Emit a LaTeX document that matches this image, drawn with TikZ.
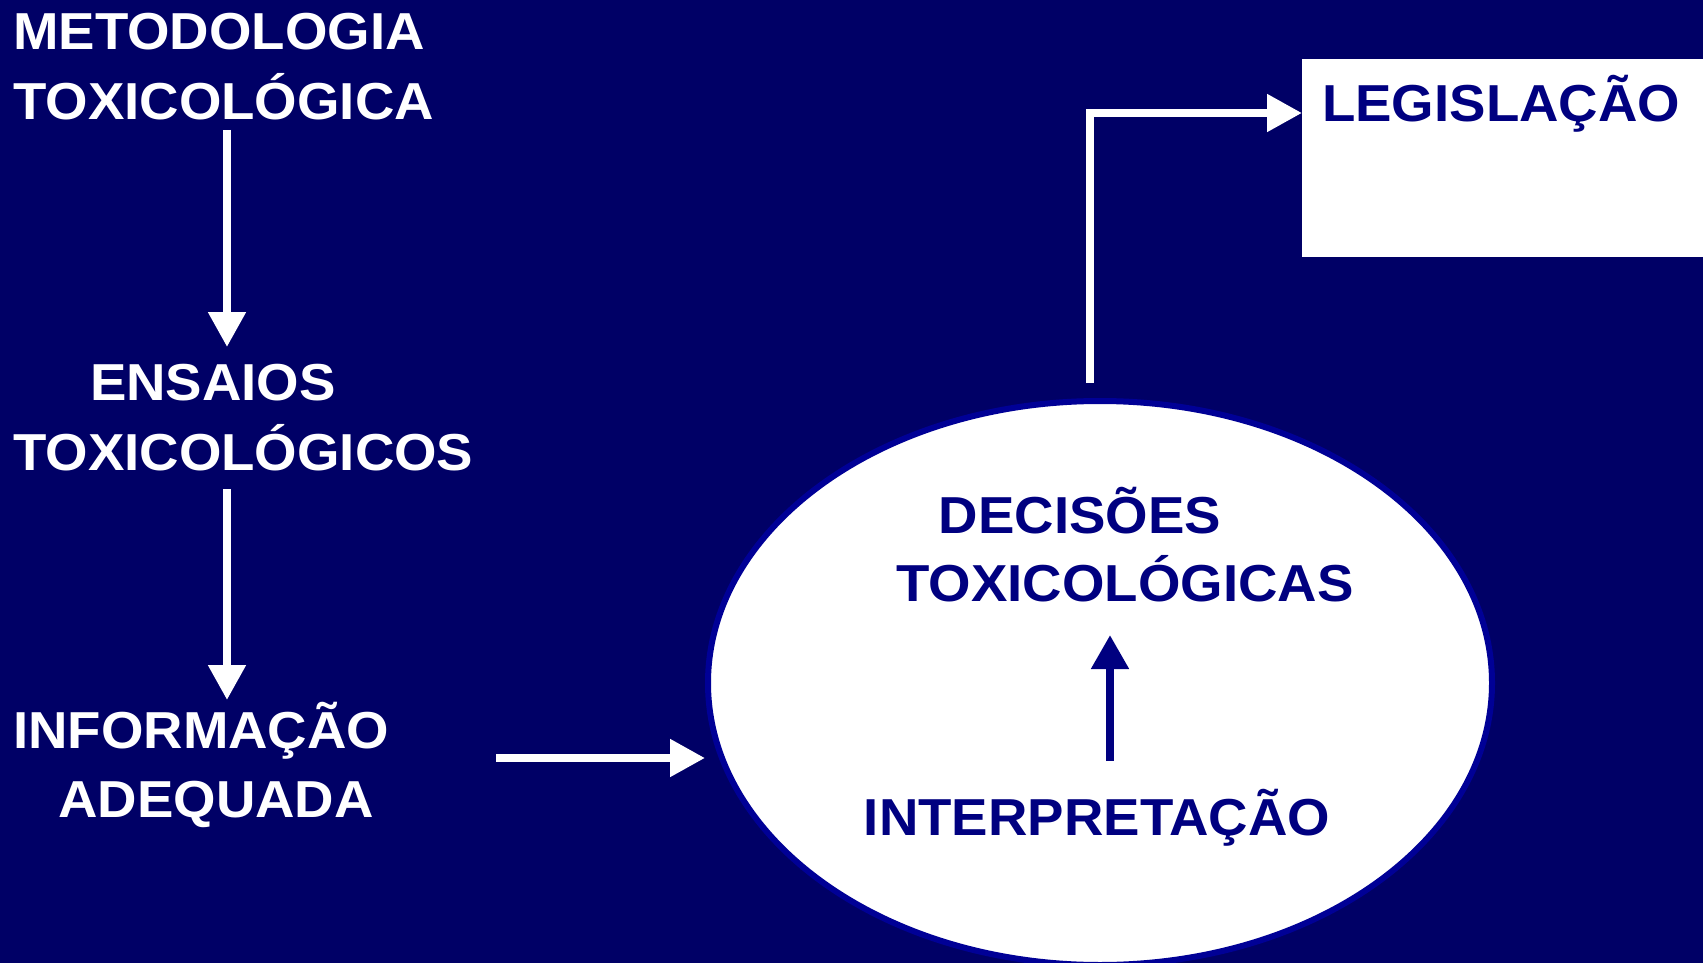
\documentclass[tikz,border=0pt]{standalone}
\usepackage{fontspec}
\setmainfont[FakeStretch=1.05]{Liberation Sans}
\usetikzlibrary{positioning,arrows.meta,shapes.geometric}

\definecolor{slidebg}{RGB}{0,0,102}
\definecolor{inkblue}{RGB}{0,0,128}
\definecolor{rimblue}{RGB}{0,0,150}

\tikzset{
  slidetext/.style={inner sep=0pt, font=\fontsize{52}{62}\selectfont\bfseries},
  onnavy/.style={slidetext, text=white},
  onwhite/.style={slidetext, text=inkblue},
  whitearrow/.style={draw=white, line width=8pt, -{Triangle[length=35pt,width=36pt]}},
  bluearrow/.style={draw=inkblue, line width=8pt, -{Triangle[length=34pt,width=36pt]}}
}

\begin{document}
\begin{tikzpicture}[x=1pt, y=-1pt]
\useasboundingbox (0,0) rectangle (1703,963);
\fill[slidebg] (0,0) rectangle (1703,963);

% left column
\node[onnavy, anchor=base west] (metA) at (13,50) {METODOLOGIA};
\node[onnavy, anchor=base west] (metB) at (13,120) {TOXICOLÓGICA};
\node[onnavy, anchor=base] (ensA) at (213,400) {ENSAIOS};
\node[onnavy, anchor=base west] (ensB) at (13,470) {TOXICOLÓGICOS};
\node[onnavy, anchor=base west] (infA) at (13,748) {INFORMAÇÃO};
\node[onnavy, anchor=base] (infB) at (216,817) {ADEQUADA};

% ellipse and its texts
\node[ellipse, draw=rimblue, fill=white, line width=6pt, inner sep=0pt,
      minimum width=784pt, minimum height=564pt] (decide) at (1100,683) {};
\node[onwhite, anchor=base] (decA) at (1080,533) {DECISÕES};
\node[onwhite, anchor=base] (decB) at (1125,601) {TOXICOLÓGICAS};
\node[onwhite, anchor=base] (interp) at (1097,835) {INTERPRETAÇÃO};

% box at top right
\node[fill=white, anchor=north west, inner sep=0pt,
      minimum width=410pt, minimum height=198pt] (legbox) at (1302,59) {};
\node[onwhite, anchor=base west] (legis) at (1322,122) {LEGISLAÇÃO};

\coordinate (a1) at (227,130);
\coordinate (a2) at (227,347);
\coordinate (b1) at (227,489);
\coordinate (b2) at (227,700);
\coordinate (c1) at (496,758);
\coordinate (d1) at (1110,761);
\coordinate (d2) at (1110,635);
\coordinate (e1) at (1090,383);

\draw[whitearrow] (a1) -- (a2);
\draw[whitearrow] (b1) -- (b2);
\draw[whitearrow] (c1) -- (c1 -| decide.west);
\draw[bluearrow] (d1) -- (d2);
\draw[whitearrow, line join=miter] (e1) |- ([yshift=-54pt]legbox.north west);

\end{tikzpicture}
\end{document}
